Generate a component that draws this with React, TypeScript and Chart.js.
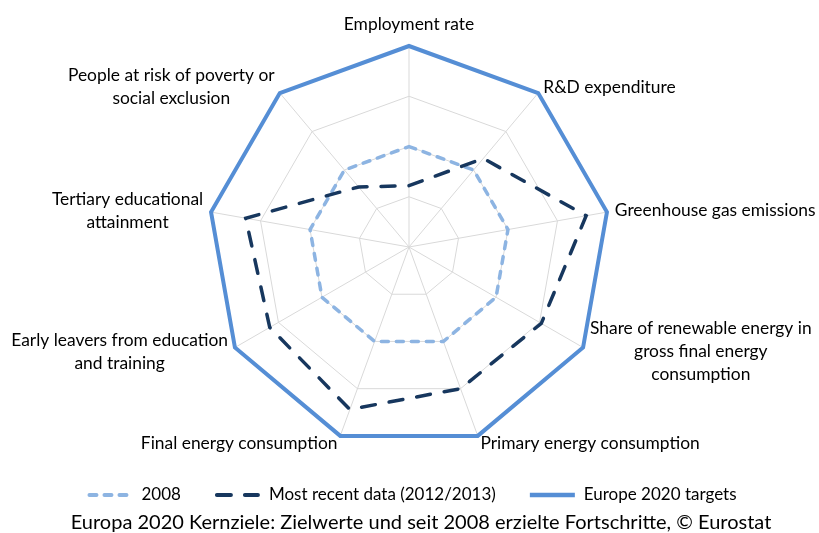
import { useEffect, useRef } from "react";
import { Chart, registerables } from "chart.js";

Chart.register(...registerables);

const categories: (string | string[])[] = [
  "Employment rate",
  "R&D expenditure",
  "Greenhouse gas emissions",
  ["Share of renewable energy in", "gross final energy", "consumption"],
  "Primary energy consumption",
  "Final energy consumption",
  ["Early leavers from education", "and training"],
  ["Tertiary educational", "attainment"],
  ["People at risk of poverty or", "social exclusion"],
];

const values2008 = [50, 50, 50, 50, 50, 50, 50, 50, 50];
const valuesRecent = [30.5, 57.5, 89.5, 76, 75, 86, 80, 82.5, 39];
const valuesTarget = [100, 100, 100, 100, 100, 100, 100, 100, 100];

const seriesLabels = ["2008", "Most recent data (2012/2013)", "Europe 2020 targets"];
const caption = "Europa 2020 Kernziele: Zielwerte und seit 2008 erzielte Fortschritte, © Eurostat";

const FONT = "Lato, 'Open Sans', sans-serif";
const LABEL_SIZE = 17.4;
const LABEL_LH = 23;

const labelPlugin = {
  id: "customPointLabels",
  afterDraw(chart: any) {
    const ctx = chart.ctx;
    const scale = chart.scales.r;
    const labels = chart.data.labels as (string | string[])[];
    ctx.save();
    ctx.font = `${LABEL_SIZE}px ${FONT}`;
    ctx.fillStyle = "#000000";
    ctx.textBaseline = "middle";
    ctx.textAlign = "center";
    labels.forEach((lab, i) => {
      const lines = Array.isArray(lab) ? lab : [lab];
      const p = scale.getPointPosition(i, scale.drawingArea + 8);
      const w = Math.max(...lines.map((l) => ctx.measureText(l).width));
      const h = lines.length * LABEL_LH;
      const sx = Math.cos(p.angle);
      const sy = Math.sin(p.angle);
      let cx: number, cy: number;
      if (Math.abs(sx) < 0.01) {
        cx = p.x;
        cy = p.y + (sy < 0 ? -h / 2 - 2 : h / 2);
      } else {
        cx = p.x + (sx > 0 ? w / 2 : -w / 2);
        cy = p.y;
      }
      lines.forEach((l, k) => ctx.fillText(l, cx, cy - h / 2 + LABEL_LH * (k + 0.5)));
    });
    ctx.restore();
  },
};

const legendPlugin = {
  id: "customLegend",
  afterDraw(chart: any) {
    const ctx = chart.ctx;
    const ds = chart.data.datasets;
    const sampleW = 45;
    const gapText = 9;
    const gapItem = 34;
    const y = 495;
    ctx.save();
    ctx.font = `17px ${FONT}`;
    ctx.textBaseline = "middle";
    ctx.textAlign = "left";
    const widths = ds.map((d: any) => sampleW + gapText + ctx.measureText(d.label).width);
    const total = widths.reduce((a: number, b: number) => a + b, 0) + gapItem * (ds.length - 1);
    let x = 412 - total / 2;
    ds.forEach((d: any, i: number) => {
      ctx.save();
      ctx.strokeStyle = d.borderColor;
      ctx.lineWidth = d.borderWidth + 0.5;
      ctx.lineCap = d.borderCapStyle || "butt";
      ctx.setLineDash(d.borderDash || []);
      ctx.beginPath();
      const inset = d.borderCapStyle === "round" ? ctx.lineWidth / 2 : 0;
      ctx.moveTo(x + inset, y);
      ctx.lineTo(x + sampleW - inset, y);
      ctx.stroke();
      ctx.restore();
      ctx.fillStyle = "#000000";
      ctx.fillText(d.label, x + sampleW + gapText, y);
      x += widths[i] + gapItem;
    });
    ctx.font = `20px ${FONT}`;
    ctx.textAlign = "center";
    ctx.fillText(caption, 421, 523);
    ctx.restore();
  },
};

export default function App() {
  const ref = useRef<HTMLCanvasElement>(null);
  useEffect(() => {
    if (!ref.current) return;
    const chart = new Chart(ref.current, {
      type: "radar",
      data: {
        labels: categories,
        datasets: [
          {
            label: seriesLabels[0],
            data: values2008,
            borderColor: "#8DB4E2",
            borderWidth: 3.5,
            borderDash: [7, 8],
            borderCapStyle: "round",
            fill: false,
            order: 1,
          },
          {
            label: seriesLabels[1],
            data: valuesRecent,
            borderColor: "#17375E",
            borderWidth: 3.5,
            borderDash: [14, 14],
            borderCapStyle: "round",
            fill: false,
            order: 0,
          },
          {
            label: seriesLabels[2],
            data: valuesTarget,
            borderColor: "#558ED5",
            borderWidth: 4,
            borderJoinStyle: "miter",
            fill: false,
            order: 2,
          },
        ] as any,
      },
      options: {
        responsive: false,
        animation: false,
        layout: { padding: { top: 46, bottom: 85, left: 0, right: 0 } },
        plugins: { legend: { display: false }, tooltip: { enabled: false } },
        elements: { point: { radius: 0, hoverRadius: 0 }, line: { tension: 0 } },
        scales: {
          r: {
            min: 0,
            max: 100,
            ticks: { display: false, stepSize: 25 },
            grid: { color: "#D9D9D9", lineWidth: 1 },
            angleLines: { color: "#D9D9D9", lineWidth: 1 },
            pointLabels: { display: false },
          },
        },
      },
      plugins: [labelPlugin, legendPlugin],
    });
    return () => chart.destroy();
  }, []);
  return (
    <div style={{ position: "absolute", left: 0, top: 0, width: 819, height: 533, background: "#fff" }}>
      <canvas ref={ref} width={819} height={533} style={{ display: "block" }} />
    </div>
  );
}
